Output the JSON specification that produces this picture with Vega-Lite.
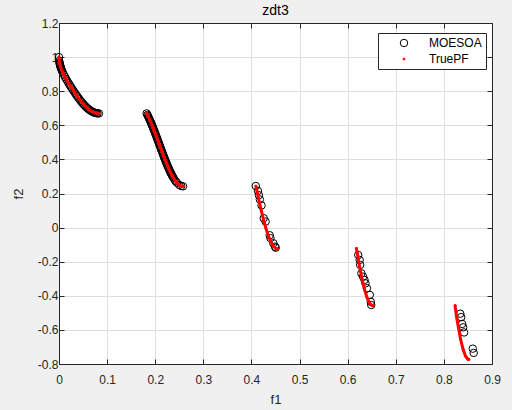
{
  "$schema": "https://vega.github.io/schema/vega-lite/v6.json",
  "width": 433,
  "height": 341,
  "autosize": {"type": "none"},
  "padding": {"left": 59, "top": 23, "right": 20, "bottom": 46},
  "background": "#f0f0f0",
  "title": {"text": "zdt3", "fontSize": 14, "fontWeight": "normal", "color": "#000000", "offset": 6, "dy": 7, "font": "Liberation Sans"},
  "config": {
    "font": "Liberation Sans",
    "view": {"fill": "#ffffff", "stroke": "#262626"},
    "axis": {"labelFont": "Liberation Sans", "titleFont": "Liberation Sans", "labelFontSize": 12, "titleFontSize": 13, "titleFontWeight": "normal", "labelColor": "#262626", "titleColor": "#262626", "domainColor": "#262626", "tickColor": "#262626", "gridColor": "#dedede", "gridOpacity": 1},
    "legend": {"labelFont": "Liberation Sans", "labelFontSize": 12, "labelColor": "#000000"}
  },
  "data": {
    "values": [
      {"f1": 0, "f2": 1, "series": "MOESOA", "seg": 1},
      {"f1": 0.0005, "f2": 0.97763, "series": "MOESOA", "seg": 1},
      {"f1": 0.001, "f2": 0.96835, "series": "MOESOA", "seg": 1},
      {"f1": 0.0015, "f2": 0.9612, "series": "MOESOA", "seg": 1},
      {"f1": 0.002, "f2": 0.95515, "series": "MOESOA", "seg": 1},
      {"f1": 0.0025, "f2": 0.9498, "series": "MOESOA", "seg": 1},
      {"f1": 0.0035, "f2": 0.94046, "series": "MOESOA", "seg": 1},
      {"f1": 0.004, "f2": 0.93625, "series": "MOESOA", "seg": 1},
      {"f1": 0.005, "f2": 0.92851, "series": "MOESOA", "seg": 1},
      {"f1": 0.006, "f2": 0.92142, "series": "MOESOA", "seg": 1},
      {"f1": 0.0075, "f2": 0.91165, "series": "MOESOA", "seg": 1},
      {"f1": 0.01, "f2": 0.89691, "series": "MOESOA", "seg": 1},
      {"f1": 0.0125, "f2": 0.88341, "series": "MOESOA", "seg": 1},
      {"f1": 0.015, "f2": 0.87072, "series": "MOESOA", "seg": 1},
      {"f1": 0.0175, "f2": 0.85857, "series": "MOESOA", "seg": 1},
      {"f1": 0.02, "f2": 0.84682, "series": "MOESOA", "seg": 1},
      {"f1": 0.0225, "f2": 0.83539, "series": "MOESOA", "seg": 1},
      {"f1": 0.025, "f2": 0.82421, "series": "MOESOA", "seg": 1},
      {"f1": 0.0275, "f2": 0.81326, "series": "MOESOA", "seg": 1},
      {"f1": 0.03, "f2": 0.80252, "series": "MOESOA", "seg": 1},
      {"f1": 0.0325, "f2": 0.79201, "series": "MOESOA", "seg": 1},
      {"f1": 0.035, "f2": 0.78173, "series": "MOESOA", "seg": 1},
      {"f1": 0.0375, "f2": 0.77171, "series": "MOESOA", "seg": 1},
      {"f1": 0.04, "f2": 0.76196, "series": "MOESOA", "seg": 1},
      {"f1": 0.0425, "f2": 0.75252, "series": "MOESOA", "seg": 1},
      {"f1": 0.045, "f2": 0.74342, "series": "MOESOA", "seg": 1},
      {"f1": 0.0475, "f2": 0.7347, "series": "MOESOA", "seg": 1},
      {"f1": 0.05, "f2": 0.72639, "series": "MOESOA", "seg": 1},
      {"f1": 0.0525, "f2": 0.71853, "series": "MOESOA", "seg": 1},
      {"f1": 0.055, "f2": 0.71116, "series": "MOESOA", "seg": 1},
      {"f1": 0.0575, "f2": 0.7043, "series": "MOESOA", "seg": 1},
      {"f1": 0.06, "f2": 0.69799, "series": "MOESOA", "seg": 1},
      {"f1": 0.0625, "f2": 0.69226, "series": "MOESOA", "seg": 1},
      {"f1": 0.065, "f2": 0.68713, "series": "MOESOA", "seg": 1},
      {"f1": 0.0675, "f2": 0.68264, "series": "MOESOA", "seg": 1},
      {"f1": 0.07, "f2": 0.67879, "series": "MOESOA", "seg": 1},
      {"f1": 0.0725, "f2": 0.67561, "series": "MOESOA", "seg": 1},
      {"f1": 0.075, "f2": 0.67311, "series": "MOESOA", "seg": 1},
      {"f1": 0.0775, "f2": 0.67128, "series": "MOESOA", "seg": 1},
      {"f1": 0.08, "f2": 0.67013, "series": "MOESOA", "seg": 1},
      {"f1": 0.083, "f2": 0.66965, "series": "MOESOA", "seg": 1},
      {"f1": 0.1822, "f2": 0.66981, "series": "MOESOA", "seg": 2},
      {"f1": 0.18375, "f2": 0.66112, "series": "MOESOA", "seg": 2},
      {"f1": 0.185, "f2": 0.65387, "series": "MOESOA", "seg": 2},
      {"f1": 0.18625, "f2": 0.64641, "series": "MOESOA", "seg": 2},
      {"f1": 0.1875, "f2": 0.63874, "series": "MOESOA", "seg": 2},
      {"f1": 0.18875, "f2": 0.63088, "series": "MOESOA", "seg": 2},
      {"f1": 0.19, "f2": 0.62282, "series": "MOESOA", "seg": 2},
      {"f1": 0.19125, "f2": 0.61459, "series": "MOESOA", "seg": 2},
      {"f1": 0.1925, "f2": 0.60619, "series": "MOESOA", "seg": 2},
      {"f1": 0.19375, "f2": 0.59763, "series": "MOESOA", "seg": 2},
      {"f1": 0.195, "f2": 0.58892, "series": "MOESOA", "seg": 2},
      {"f1": 0.19625, "f2": 0.58007, "series": "MOESOA", "seg": 2},
      {"f1": 0.1975, "f2": 0.57109, "series": "MOESOA", "seg": 2},
      {"f1": 0.19875, "f2": 0.56199, "series": "MOESOA", "seg": 2},
      {"f1": 0.2, "f2": 0.55279, "series": "MOESOA", "seg": 2},
      {"f1": 0.20125, "f2": 0.54349, "series": "MOESOA", "seg": 2},
      {"f1": 0.2025, "f2": 0.53411, "series": "MOESOA", "seg": 2},
      {"f1": 0.20375, "f2": 0.52467, "series": "MOESOA", "seg": 2},
      {"f1": 0.205, "f2": 0.51516, "series": "MOESOA", "seg": 2},
      {"f1": 0.20625, "f2": 0.50562, "series": "MOESOA", "seg": 2},
      {"f1": 0.2075, "f2": 0.49604, "series": "MOESOA", "seg": 2},
      {"f1": 0.20875, "f2": 0.48645, "series": "MOESOA", "seg": 2},
      {"f1": 0.21, "f2": 0.47685, "series": "MOESOA", "seg": 2},
      {"f1": 0.21125, "f2": 0.46726, "series": "MOESOA", "seg": 2},
      {"f1": 0.2125, "f2": 0.4577, "series": "MOESOA", "seg": 2},
      {"f1": 0.21375, "f2": 0.44818, "series": "MOESOA", "seg": 2},
      {"f1": 0.215, "f2": 0.43871, "series": "MOESOA", "seg": 2},
      {"f1": 0.21625, "f2": 0.42931, "series": "MOESOA", "seg": 2},
      {"f1": 0.2175, "f2": 0.41999, "series": "MOESOA", "seg": 2},
      {"f1": 0.21875, "f2": 0.41076, "series": "MOESOA", "seg": 2},
      {"f1": 0.22, "f2": 0.40165, "series": "MOESOA", "seg": 2},
      {"f1": 0.22125, "f2": 0.39265, "series": "MOESOA", "seg": 2},
      {"f1": 0.2225, "f2": 0.3838, "series": "MOESOA", "seg": 2},
      {"f1": 0.22375, "f2": 0.3751, "series": "MOESOA", "seg": 2},
      {"f1": 0.225, "f2": 0.36656, "series": "MOESOA", "seg": 2},
      {"f1": 0.22625, "f2": 0.3582, "series": "MOESOA", "seg": 2},
      {"f1": 0.2275, "f2": 0.35004, "series": "MOESOA", "seg": 2},
      {"f1": 0.22875, "f2": 0.34208, "series": "MOESOA", "seg": 2},
      {"f1": 0.23, "f2": 0.33434, "series": "MOESOA", "seg": 2},
      {"f1": 0.23125, "f2": 0.32684, "series": "MOESOA", "seg": 2},
      {"f1": 0.2325, "f2": 0.31958, "series": "MOESOA", "seg": 2},
      {"f1": 0.23375, "f2": 0.31258, "series": "MOESOA", "seg": 2},
      {"f1": 0.235, "f2": 0.30585, "series": "MOESOA", "seg": 2},
      {"f1": 0.23625, "f2": 0.2994, "series": "MOESOA", "seg": 2},
      {"f1": 0.2375, "f2": 0.29324, "series": "MOESOA", "seg": 2},
      {"f1": 0.24, "f2": 0.28185, "series": "MOESOA", "seg": 2},
      {"f1": 0.2425, "f2": 0.27176, "series": "MOESOA", "seg": 2},
      {"f1": 0.245, "f2": 0.26304, "series": "MOESOA", "seg": 2},
      {"f1": 0.25, "f2": 0.25, "series": "MOESOA", "seg": 2},
      {"f1": 0.254, "f2": 0.24402, "series": "MOESOA", "seg": 2},
      {"f1": 0.2578, "f2": 0.24216, "series": "MOESOA", "seg": 2},
      {"f1": 0.409, "f2": 0.244, "series": "MOESOA", "seg": 3},
      {"f1": 0.4135, "f2": 0.215, "series": "MOESOA", "seg": 3},
      {"f1": 0.4155, "f2": 0.19, "series": "MOESOA", "seg": 3},
      {"f1": 0.4175, "f2": 0.165, "series": "MOESOA", "seg": 3},
      {"f1": 0.421, "f2": 0.13, "series": "MOESOA", "seg": 3},
      {"f1": 0.4255, "f2": 0.055, "series": "MOESOA", "seg": 3},
      {"f1": 0.4295, "f2": 0.035, "series": "MOESOA", "seg": 3},
      {"f1": 0.438, "f2": -0.045, "series": "MOESOA", "seg": 3},
      {"f1": 0.4395, "f2": -0.062, "series": "MOESOA", "seg": 3},
      {"f1": 0.4455, "f2": -0.092, "series": "MOESOA", "seg": 3},
      {"f1": 0.449, "f2": -0.112, "series": "MOESOA", "seg": 3},
      {"f1": 0.4505, "f2": -0.118, "series": "MOESOA", "seg": 3},
      {"f1": 0.622, "f2": -0.161, "series": "MOESOA", "seg": 4},
      {"f1": 0.625, "f2": -0.19, "series": "MOESOA", "seg": 4},
      {"f1": 0.626, "f2": -0.219, "series": "MOESOA", "seg": 4},
      {"f1": 0.6285, "f2": -0.268, "series": "MOESOA", "seg": 4},
      {"f1": 0.632, "f2": -0.288, "series": "MOESOA", "seg": 4},
      {"f1": 0.635, "f2": -0.307, "series": "MOESOA", "seg": 4},
      {"f1": 0.637, "f2": -0.327, "series": "MOESOA", "seg": 4},
      {"f1": 0.64, "f2": -0.356, "series": "MOESOA", "seg": 4},
      {"f1": 0.646, "f2": -0.395, "series": "MOESOA", "seg": 4},
      {"f1": 0.648, "f2": -0.435, "series": "MOESOA", "seg": 4},
      {"f1": 0.649, "f2": -0.454, "series": "MOESOA", "seg": 4},
      {"f1": 0.834, "f2": -0.505, "series": "MOESOA", "seg": 5},
      {"f1": 0.836, "f2": -0.525, "series": "MOESOA", "seg": 5},
      {"f1": 0.838, "f2": -0.565, "series": "MOESOA", "seg": 5},
      {"f1": 0.84, "f2": -0.585, "series": "MOESOA", "seg": 5},
      {"f1": 0.842, "f2": -0.615, "series": "MOESOA", "seg": 5},
      {"f1": 0.86, "f2": -0.71, "series": "MOESOA", "seg": 5},
      {"f1": 0.862, "f2": -0.735, "series": "MOESOA", "seg": 5},
      {"f1": 0, "f2": 1, "series": "TruePF", "seg": 1},
      {"f1": 0.0005, "f2": 0.97763, "series": "TruePF", "seg": 1},
      {"f1": 0.001, "f2": 0.96835, "series": "TruePF", "seg": 1},
      {"f1": 0.002, "f2": 0.95515, "series": "TruePF", "seg": 1},
      {"f1": 0.0035, "f2": 0.94046, "series": "TruePF", "seg": 1},
      {"f1": 0.005, "f2": 0.92851, "series": "TruePF", "seg": 1},
      {"f1": 0.0075, "f2": 0.91165, "series": "TruePF", "seg": 1},
      {"f1": 0.01, "f2": 0.89691, "series": "TruePF", "seg": 1},
      {"f1": 0.015, "f2": 0.87072, "series": "TruePF", "seg": 1},
      {"f1": 0.02, "f2": 0.84682, "series": "TruePF", "seg": 1},
      {"f1": 0.025, "f2": 0.82421, "series": "TruePF", "seg": 1},
      {"f1": 0.03, "f2": 0.80252, "series": "TruePF", "seg": 1},
      {"f1": 0.035, "f2": 0.78173, "series": "TruePF", "seg": 1},
      {"f1": 0.04, "f2": 0.76196, "series": "TruePF", "seg": 1},
      {"f1": 0.045, "f2": 0.74342, "series": "TruePF", "seg": 1},
      {"f1": 0.05, "f2": 0.72639, "series": "TruePF", "seg": 1},
      {"f1": 0.055, "f2": 0.71116, "series": "TruePF", "seg": 1},
      {"f1": 0.06, "f2": 0.69799, "series": "TruePF", "seg": 1},
      {"f1": 0.065, "f2": 0.68713, "series": "TruePF", "seg": 1},
      {"f1": 0.07, "f2": 0.67879, "series": "TruePF", "seg": 1},
      {"f1": 0.075, "f2": 0.67311, "series": "TruePF", "seg": 1},
      {"f1": 0.08, "f2": 0.67013, "series": "TruePF", "seg": 1},
      {"f1": 0.083, "f2": 0.66965, "series": "TruePF", "seg": 1},
      {"f1": 0.1822, "f2": 0.66981, "series": "TruePF", "seg": 2},
      {"f1": 0.185, "f2": 0.65387, "series": "TruePF", "seg": 2},
      {"f1": 0.1875, "f2": 0.63874, "series": "TruePF", "seg": 2},
      {"f1": 0.19, "f2": 0.62282, "series": "TruePF", "seg": 2},
      {"f1": 0.1925, "f2": 0.60619, "series": "TruePF", "seg": 2},
      {"f1": 0.195, "f2": 0.58892, "series": "TruePF", "seg": 2},
      {"f1": 0.1975, "f2": 0.57109, "series": "TruePF", "seg": 2},
      {"f1": 0.2, "f2": 0.55279, "series": "TruePF", "seg": 2},
      {"f1": 0.2025, "f2": 0.53411, "series": "TruePF", "seg": 2},
      {"f1": 0.205, "f2": 0.51516, "series": "TruePF", "seg": 2},
      {"f1": 0.2075, "f2": 0.49604, "series": "TruePF", "seg": 2},
      {"f1": 0.21, "f2": 0.47685, "series": "TruePF", "seg": 2},
      {"f1": 0.2125, "f2": 0.4577, "series": "TruePF", "seg": 2},
      {"f1": 0.215, "f2": 0.43871, "series": "TruePF", "seg": 2},
      {"f1": 0.2175, "f2": 0.41999, "series": "TruePF", "seg": 2},
      {"f1": 0.22, "f2": 0.40165, "series": "TruePF", "seg": 2},
      {"f1": 0.2225, "f2": 0.3838, "series": "TruePF", "seg": 2},
      {"f1": 0.225, "f2": 0.36656, "series": "TruePF", "seg": 2},
      {"f1": 0.2275, "f2": 0.35004, "series": "TruePF", "seg": 2},
      {"f1": 0.23, "f2": 0.33434, "series": "TruePF", "seg": 2},
      {"f1": 0.2325, "f2": 0.31958, "series": "TruePF", "seg": 2},
      {"f1": 0.235, "f2": 0.30585, "series": "TruePF", "seg": 2},
      {"f1": 0.2375, "f2": 0.29324, "series": "TruePF", "seg": 2},
      {"f1": 0.24, "f2": 0.28185, "series": "TruePF", "seg": 2},
      {"f1": 0.2425, "f2": 0.27176, "series": "TruePF", "seg": 2},
      {"f1": 0.245, "f2": 0.26304, "series": "TruePF", "seg": 2},
      {"f1": 0.25, "f2": 0.25, "series": "TruePF", "seg": 2},
      {"f1": 0.254, "f2": 0.24402, "series": "TruePF", "seg": 2},
      {"f1": 0.2578, "f2": 0.24216, "series": "TruePF", "seg": 2},
      {"f1": 0.4093, "f2": 0.24233, "series": "TruePF", "seg": 3},
      {"f1": 0.412, "f2": 0.20646, "series": "TruePF", "seg": 3},
      {"f1": 0.415, "f2": 0.16739, "series": "TruePF", "seg": 3},
      {"f1": 0.42, "f2": 0.10506, "series": "TruePF", "seg": 3},
      {"f1": 0.425, "f2": 0.04756, "series": "TruePF", "seg": 3},
      {"f1": 0.43, "f2": -0.00362, "series": "TruePF", "seg": 3},
      {"f1": 0.435, "f2": -0.04713, "series": "TruePF", "seg": 3},
      {"f1": 0.44, "f2": -0.08179, "series": "TruePF", "seg": 3},
      {"f1": 0.445, "f2": -0.1066, "series": "TruePF", "seg": 3},
      {"f1": 0.45, "f2": -0.12082, "series": "TruePF", "seg": 3},
      {"f1": 0.4539, "f2": -0.12422, "series": "TruePF", "seg": 3},
      {"f1": 0.6183, "f2": -0.12254, "series": "TruePF", "seg": 4},
      {"f1": 0.62, "f2": -0.15183, "series": "TruePF", "seg": 4},
      {"f1": 0.625, "f2": -0.23251, "series": "TruePF", "seg": 4},
      {"f1": 0.63, "f2": -0.30341, "series": "TruePF", "seg": 4},
      {"f1": 0.635, "f2": -0.36266, "series": "TruePF", "seg": 4},
      {"f1": 0.64, "f2": -0.40868, "series": "TruePF", "seg": 4},
      {"f1": 0.645, "f2": -0.44018, "series": "TruePF", "seg": 4},
      {"f1": 0.65, "f2": -0.45623, "series": "TruePF", "seg": 4},
      {"f1": 0.6525, "f2": -0.45826, "series": "TruePF", "seg": 4},
      {"f1": 0.8233, "f2": -0.45772, "series": "TruePF", "seg": 5},
      {"f1": 0.826, "f2": -0.51784, "series": "TruePF", "seg": 5},
      {"f1": 0.83, "f2": -0.58253, "series": "TruePF", "seg": 5},
      {"f1": 0.835, "f2": -0.65777, "series": "TruePF", "seg": 5},
      {"f1": 0.84, "f2": -0.7154, "series": "TruePF", "seg": 5},
      {"f1": 0.845, "f2": -0.75384, "series": "TruePF", "seg": 5},
      {"f1": 0.85, "f2": -0.77195, "series": "TruePF", "seg": 5},
      {"f1": 0.8518, "f2": -0.77337, "series": "TruePF", "seg": 5}
    ]
  },
  "layer": [
    {
      "mark": {"type": "point", "opacity": 1, "strokeWidth": 1},
      "encoding": {
        "x": {
          "field": "f1", "type": "quantitative",
          "scale": {"domain": [0, 0.9], "nice": false, "zero": false},
          "axis": {"orient": "bottom", "title": "f1", "values": [0, 0.1, 0.2, 0.3, 0.4, 0.5, 0.6, 0.7, 0.8, 0.9], "grid": true, "tickSize": -5, "labelPadding": 15, "titlePadding": 8, "labelFlush": false, "labelExpr": "datum.value < 0 ? '-' + format(-datum.value, '~g') : format(datum.value, '~g')"}
        },
        "y": {
          "field": "f2", "type": "quantitative",
          "scale": {"domain": [-0.8, 1.2], "nice": false, "zero": false},
          "axis": {"orient": "left", "title": "f2", "values": [-0.8, -0.6, -0.4, -0.2, 0, 0.2, 0.4, 0.6, 0.8, 1, 1.2], "grid": true, "tickSize": -5, "labelPadding": 6, "titlePadding": 12, "labelFlush": false, "labelExpr": "datum.value < 0 ? '-' + format(-datum.value, '~g') : format(datum.value, '~g')"}
        },
        "stroke": {
          "field": "series", "type": "nominal",
          "scale": {"domain": ["MOESOA", "TruePF"], "range": ["#000000", "#ff0000"]},
          "legend": {"title": null, "orient": "none", "legendX": 319, "legendY": 10, "strokeColor": "#262626", "fillColor": "#ffffff", "padding": 4, "symbolOffset": 16, "labelOffset": 19, "rowPadding": 4, "symbolStrokeWidth": 1, "labelExpr": "datum.label + '\u00a0\u00a0\u00a0'"}
        },
        "fill": {
          "field": "series", "type": "nominal",
          "scale": {"domain": ["MOESOA", "TruePF"], "range": ["transparent", "#ff0000"]},
          "legend": {"title": null, "orient": "none", "legendX": 319, "legendY": 10, "strokeColor": "#262626", "fillColor": "#ffffff", "padding": 4, "symbolOffset": 16, "labelOffset": 19, "rowPadding": 4, "symbolStrokeWidth": 1, "labelExpr": "datum.label + '\u00a0\u00a0\u00a0'"}
        },
        "size": {
          "field": "series", "type": "nominal",
          "scale": {"domain": ["MOESOA", "TruePF"], "range": [56, 4]},
          "legend": {"title": null, "orient": "none", "legendX": 319, "legendY": 10, "strokeColor": "#262626", "fillColor": "#ffffff", "padding": 4, "symbolOffset": 16, "labelOffset": 19, "rowPadding": 4, "symbolStrokeWidth": 1, "labelExpr": "datum.label + '\u00a0\u00a0\u00a0'"}
        }
      }
    },
    {
      "transform": [{"filter": "datum.series === 'TruePF'"}],
      "mark": {"type": "line", "color": "#ff0000", "strokeWidth": 3, "strokeCap": "round", "strokeJoin": "round"},
      "encoding": {
        "x": {
          "field": "f1", "type": "quantitative",
          "axis": {"orient": "top", "title": null, "labels": false, "grid": false, "values": [0, 0.1, 0.2, 0.3, 0.4, 0.5, 0.6, 0.7, 0.8, 0.9], "tickSize": -5}
        },
        "y": {
          "field": "f2", "type": "quantitative",
          "axis": {"orient": "right", "title": null, "labels": false, "grid": false, "values": [-0.8, -0.6, -0.4, -0.2, 0, 0.2, 0.4, 0.6, 0.8, 1, 1.2], "tickSize": -5}
        },
        "detail": {"field": "seg", "type": "nominal"}
      }
    }
  ],
  "resolve": {"axis": {"x": "independent", "y": "independent"}}
}
